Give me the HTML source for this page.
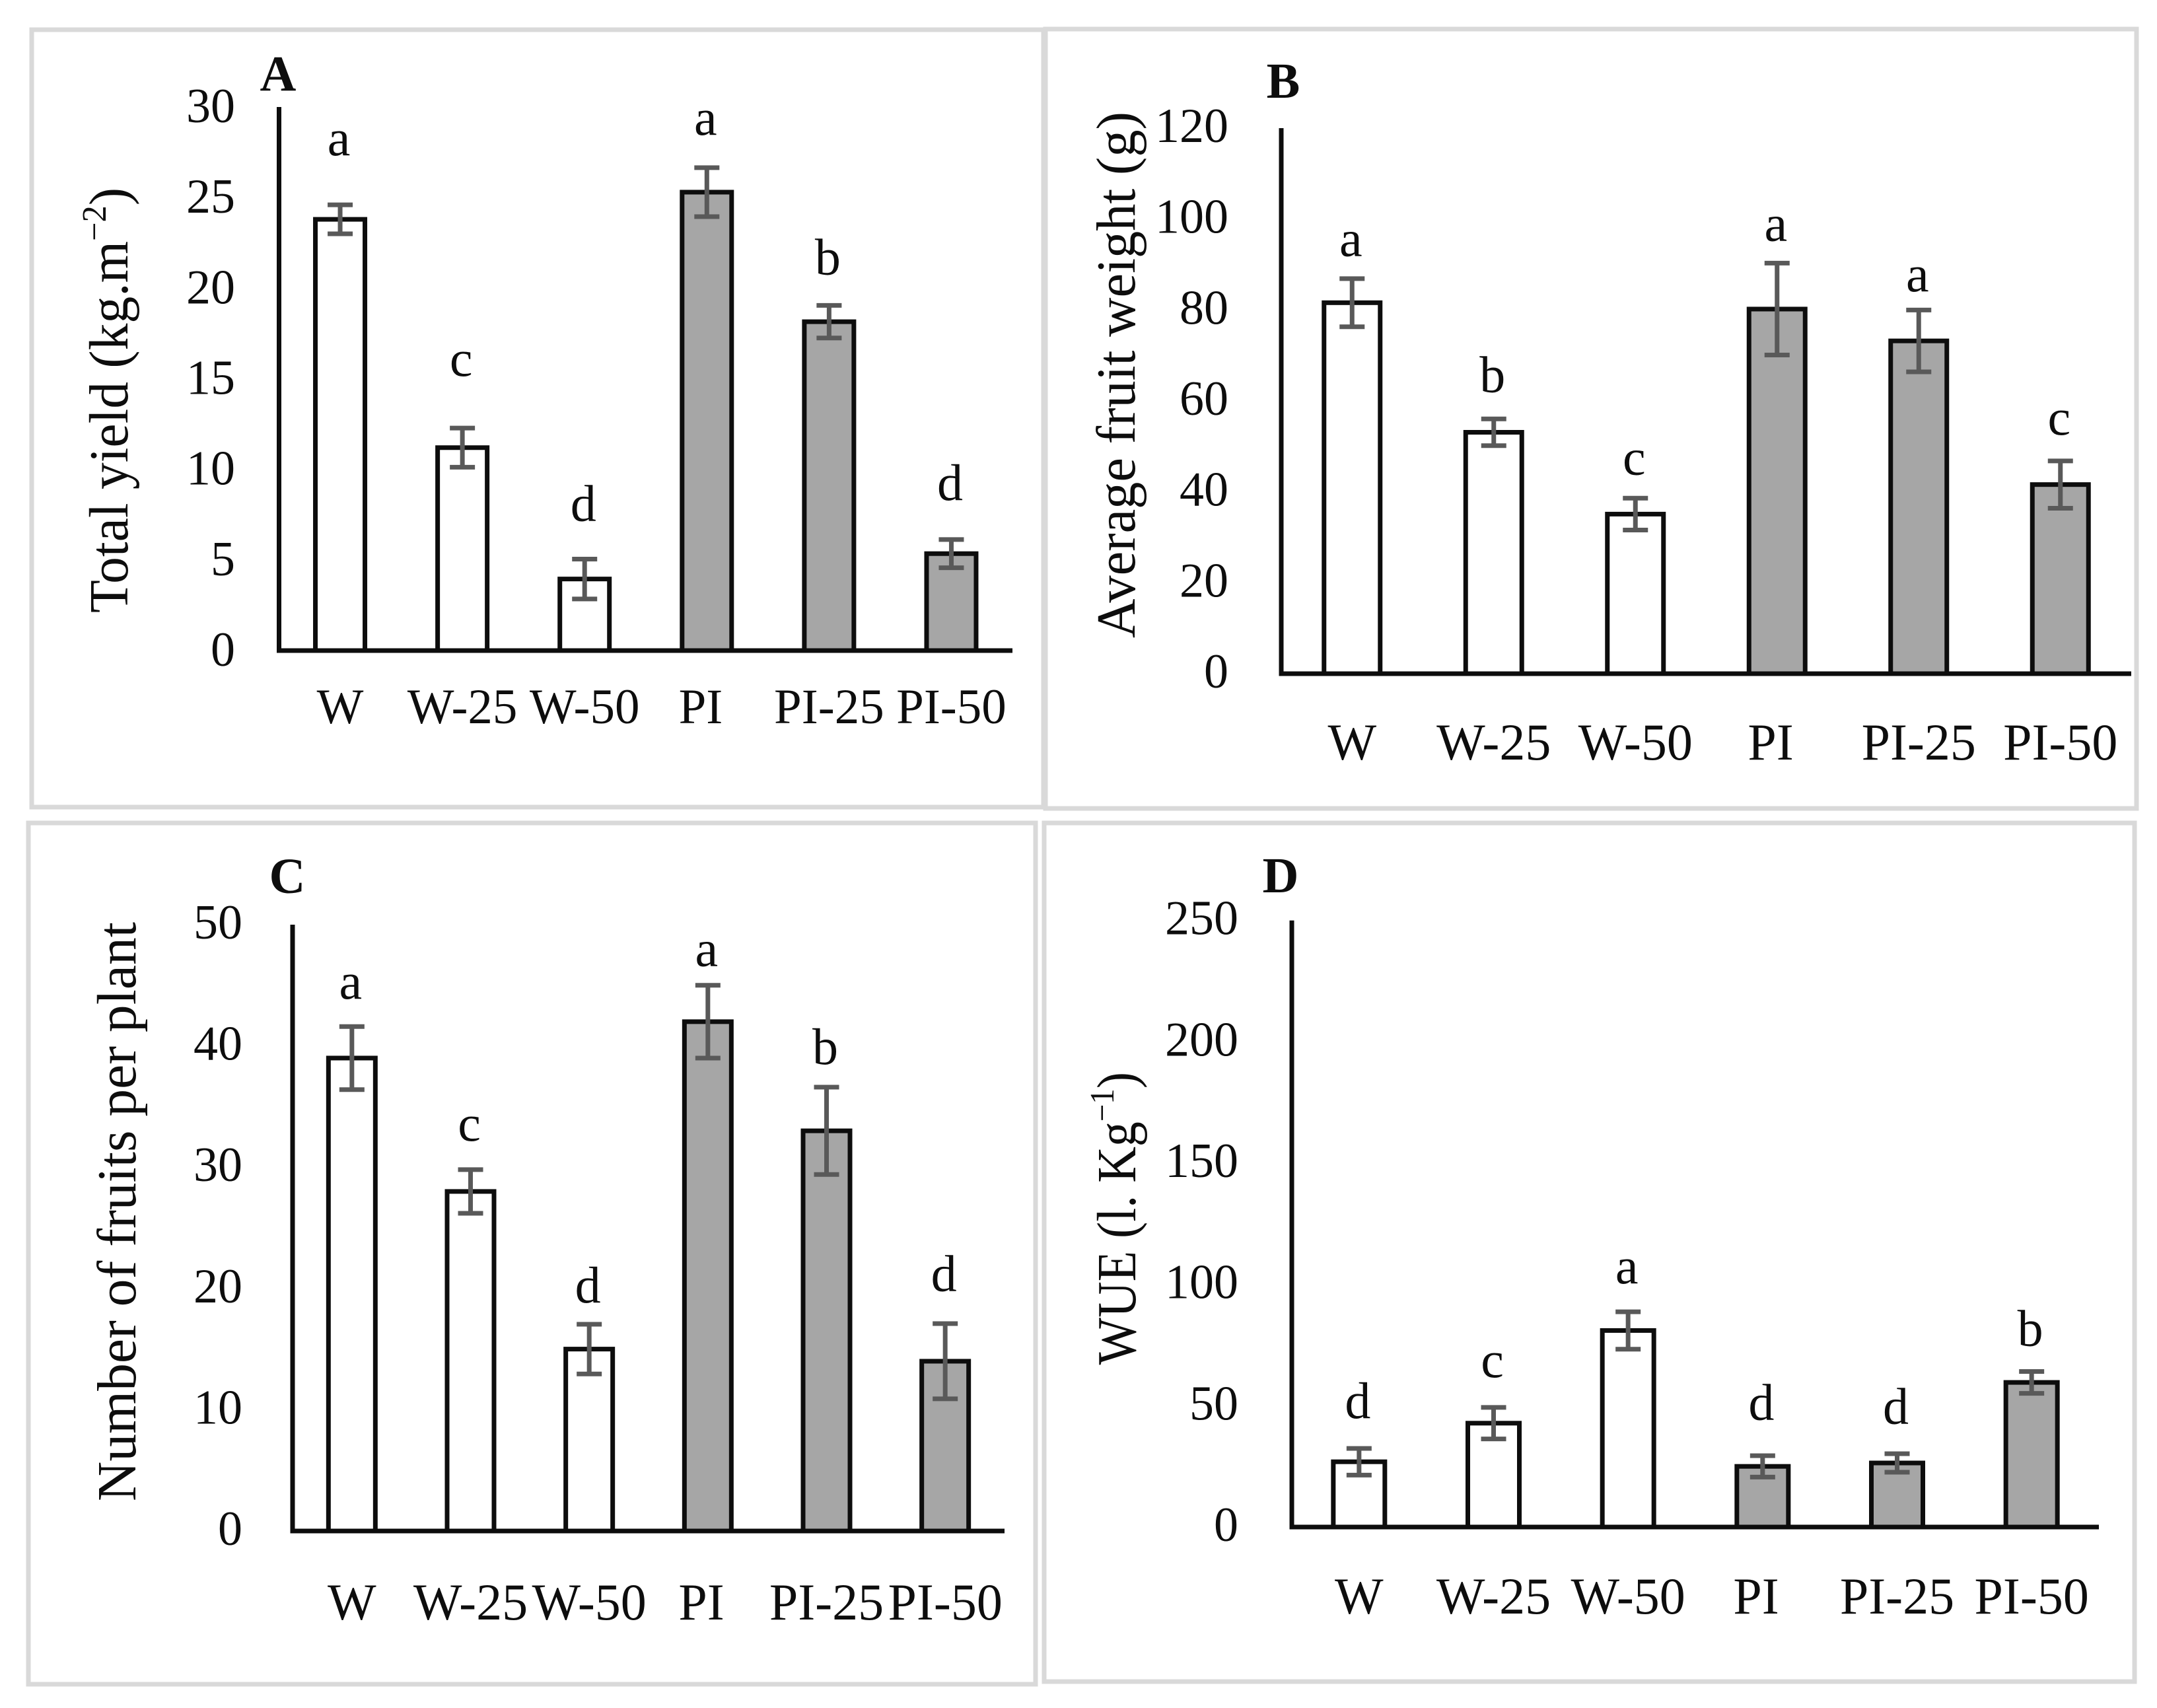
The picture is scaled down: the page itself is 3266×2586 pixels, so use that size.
<!DOCTYPE html>
<html lang="en">
<head>
<meta charset="utf-8">
<title>Yield, fruit weight, fruit number and WUE by irrigation treatment</title>
<style>
html,body{margin:0;padding:0;background:#fff;}
svg{display:block;}
text{font-family:"Liberation Serif",serif;fill:#0d0d0d;white-space:pre;}
</style>
</head>
<body>
<svg id="figure" xmlns="http://www.w3.org/2000/svg" width="3266" height="2586" viewBox="0 0 3266 2586">
<rect x="0" y="0" width="3266" height="2586" fill="#ffffff"/>
</svg>
<script>
// Shared categories. "PI " carries a trailing space, as in the source chart labels.
const categories = ['W', 'W-25', 'W-50', 'PI ', 'PI-25', 'PI-50'];

// Panel A: total yield
const yieldValues = [23.8, 11.2, 3.95, 25.3, 18.15, 5.35];
const yieldErrors = [0.8, 1.08, 1.1, 1.35, 0.9, 0.78];
const yieldLetters = ['a', 'c', 'd', 'a', 'b', 'd'];
const yieldLetterClearance = [2.73, 2.88, 2.11, 1.82, 1.71, 2.19];
const yieldTicks = [0, 5, 10, 15, 20, 25, 30];

// Panel B: average fruit weight
const weightValues = [81.6, 53.1, 35.1, 80.2, 73.2, 41.6];
const weightErrors = [5.3, 2.95, 3.5, 10.1, 6.8, 5.2];
const weightLetters = ['a', 'b', 'c', 'a', 'a', 'c'];
const weightLetterClearance = [5.0, 5.9, 5.2, 4.9, 4.1, 5.8];
const weightTicks = [0, 20, 40, 60, 80, 100, 120];

// Panel C: number of fruits per plant
const fruitValues = [39, 28, 15, 42, 33, 14];
const fruitErrors = [2.6, 1.8, 2.05, 3, 3.6, 3.1];
const fruitLetters = ['a', 'c', 'd', 'a', 'b', 'd'];
const fruitLetterClearance = [2.3, 2.4, 1.8, 1.6, 1.9, 2.7];
const fruitTicks = [0, 10, 20, 30, 40, 50];

// Panel D: water use efficiency
const wueValues = [26.9, 42.8, 81, 25, 26.4, 59.6];
const wueErrors = [5.5, 6.5, 7.7, 4.4, 3.8, 4.5];
const wueLetters = ['d', 'c', 'a', 'd', 'd', 'b'];
const wueLetterClearance = [12.5, 12.5, 11.7, 14.8, 12.4, 10.6];
const wueTicks = [0, 50, 100, 150, 200, 250];

const SVG_NS = 'http://www.w3.org/2000/svg';
const figure = document.getElementById('figure');

function mk(tag, attrs, parent) {
  const el = document.createElementNS(SVG_NS, tag);
  for (const k in attrs) el.setAttribute(k, attrs[k]);
  parent.appendChild(el);
  return el;
}

function drawPanel(p) {
  const g = mk('g', {}, figure);
  
  

  const frame = mk('rect', {x: p.frame[0], y: p.frame[1], width: p.frame[2] - p.frame[0], height: p.frame[3] - p.frame[1], fill: 'none', stroke: '#d9d9d9', 'stroke-width': 7}, g);
  
  

  const maxTick = p.ticks[p.ticks.length - 1];
  const yScale = v => p.y0 - (v / maxTick) * (p.y0 - p.yTop);
  const step = (p.xRight - p.x0) / p.categories.length;
  const xScale = i => p.x0 + step * (i + 0.5);

  p.categories.forEach((cat, i) => {
    const top = yScale(p.values[i]);
    const bar = mk('rect', {x: xScale(i) - p.barWidth / 2, y: top, width: p.barWidth, height: p.y0 - top, fill: i < 3 ? '#ffffff' : '#a6a6a6', stroke: '#0d0d0d', 'stroke-width': 7}, g);
    
    
  });

  const yAxis = mk('line', {x1: p.x0, x2: p.x0, y1: p.yTop, y2: p.y0 + 3.5, stroke: '#0d0d0d', 'stroke-width': 7}, g);
  
  
  const xAxis = mk('line', {x1: p.x0 - 3.5, x2: p.xRight, y1: p.y0, y2: p.y0, stroke: '#0d0d0d', 'stroke-width': 7}, g);
  
  

  p.categories.forEach((cat, i) => {
    const cx = xScale(i);
    const hi = yScale(p.values[i] + p.errors[i]);
    const lo = yScale(p.values[i] - p.errors[i]);
    const d = 'M' + cx + ' ' + hi + 'V' + lo + 'M' + (cx - 19) + ' ' + hi + 'H' + (cx + 19) + 'M' + (cx - 19) + ' ' + lo + 'H' + (cx + 19);
    const err = mk('path', {d: d, fill: 'none', stroke: '#595959', 'stroke-width': 7}, g);
    
    

    const letterY = yScale(p.values[i] + p.errors[i] + p.letterClearance[i]);
    const letter = mk('text', {x: cx - 2, y: letterY, 'text-anchor': 'middle', 'font-size': 78}, g);
    letter.textContent = p.letters[i];
    
    

    const label = mk('text', {x: cx, y: p.xLabelY, 'text-anchor': 'middle', 'font-size': p.xFont}, g);
    label.textContent = cat;
    
    
  });

  p.ticks.forEach(t => {
    const label = mk('text', {x: p.yLabelX, y: yScale(t) + p.tickDrop, 'text-anchor': 'end', 'font-size': 74}, g);
    label.textContent = String(t);
    
    
  });

  const letter = mk('text', {x: p.tagX, y: p.tagY, 'font-size': 76, 'font-weight': 'bold', 'text-anchor': 'middle'}, g);
  letter.textContent = p.id;
  
  

  const title = mk('text', {
    transform: 'translate(' + p.titleX + ' ' + p.titleBottom + ') rotate(-90)',
    x: 0, y: 0, 'font-size': 84,
    textLength: p.titleBottom - p.titleTop, lengthAdjust: 'spacingAndGlyphs'
  }, g);
  
  
  title.appendChild(document.createTextNode(p.title));
  if (p.sup) {
    const s = mk('tspan', {dy: -33, 'font-size': 52}, title);
    s.textContent = p.sup;
    const e = mk('tspan', {dy: 33}, title);
    e.textContent = ')';
  }
}

drawPanel({
  id: 'A', categories, values: yieldValues, errors: yieldErrors, letters: yieldLetters,
  letterClearance: yieldLetterClearance, ticks: yieldTicks,
  frame: [48, 45, 1580, 1222], x0: 422.5, xRight: 1533, y0: 985, yTop: 162,
  barWidth: 75, xLabelY: 1095, xFont: 75, yLabelX: 356, tagX: 421, tagY: 137,
  tickDrop: 23,
  title: 'Total yield (kg.m', sup: '\u22122', titleX: 193, titleBottom: 928, titleTop: 284
});
drawPanel({
  id: 'B', categories, values: weightValues, errors: weightErrors, letters: weightLetters,
  letterClearance: weightLetterClearance, ticks: weightTicks,
  frame: [1583, 44, 3235, 1224], x0: 1940, xRight: 3227, y0: 1020, yTop: 194,
  barWidth: 85, xLabelY: 1150, xFont: 78, yLabelX: 1860, tagX: 1943, tagY: 148,
  tickDrop: 21,
  title: 'Average fruit weight (g)', titleX: 1718, titleBottom: 966, titleTop: 169
});
drawPanel({
  id: 'C', categories, values: fruitValues, errors: fruitErrors, letters: fruitLetters,
  letterClearance: fruitLetterClearance, ticks: fruitTicks,
  frame: [43, 1246, 1568, 2550], x0: 443, xRight: 1521, y0: 2318, yTop: 1400,
  barWidth: 71, xLabelY: 2452, xFont: 78, yLabelX: 367, tagX: 435, tagY: 1352,
  tickDrop: 21,
  title: 'Number of fruits per plant', titleX: 205, titleBottom: 2273, titleTop: 1396
});
drawPanel({
  id: 'D', categories, values: wueValues, errors: wueErrors, letters: wueLetters,
  letterClearance: wueLetterClearance, ticks: wueTicks,
  frame: [1581, 1246, 3232, 2546], x0: 1956, xRight: 3178, y0: 2312, yTop: 1393.6,
  barWidth: 78, xLabelY: 2443, xFont: 78, yLabelX: 1875, tagX: 1939, tagY: 1351,
  tickDrop: 21,
  title: 'WUE (l. Kg', sup: '\u22121', titleX: 1719, titleBottom: 2066.5, titleTop: 1623
});
</script>
</body>
</html>
